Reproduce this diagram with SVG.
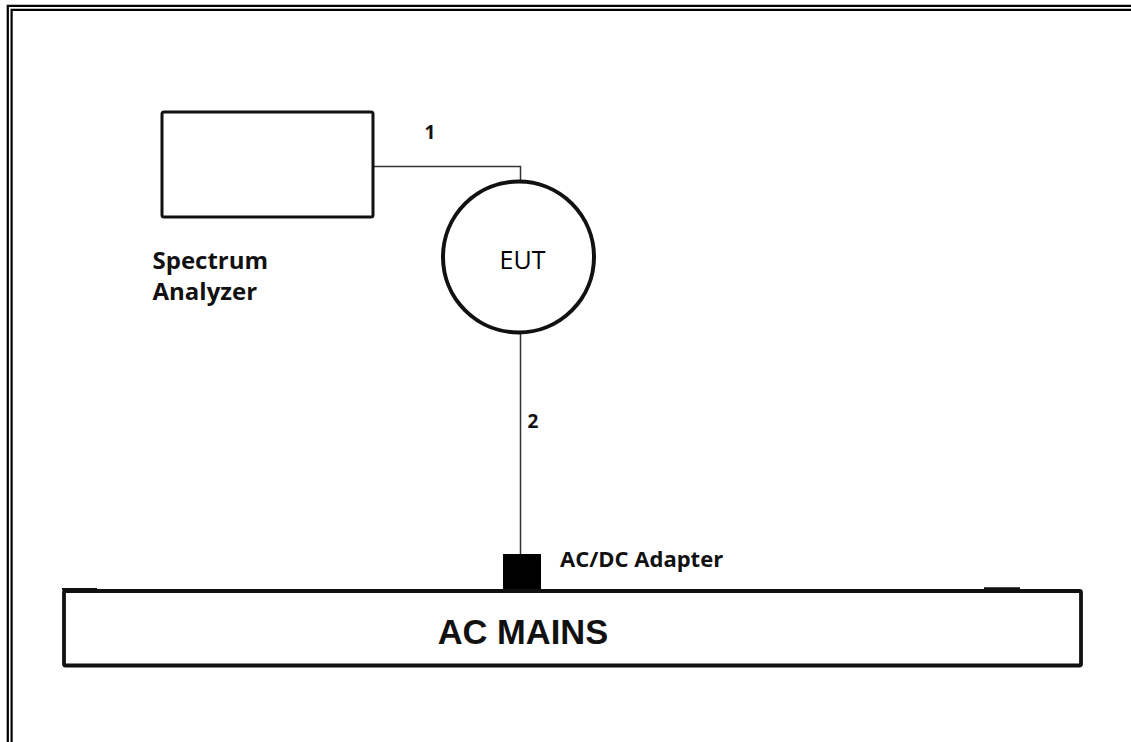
<svg xmlns="http://www.w3.org/2000/svg" width="1131" height="742" viewBox="0 0 1131 742">
  <style>
    .frame { fill: none; stroke: #000; stroke-width: 2.2; }
    .box { fill: #fff; stroke: #111; stroke-linejoin: round; }
    .wire { fill: none; stroke: #333; stroke-width: 1.5; }
    .lbl { font-family: "Open Sans", "Noto Sans", sans-serif; font-weight: bold; fill: #111; }
    .plain { font-family: "Open Sans", "Noto Sans", sans-serif; fill: #000; }
    .mains { font-family: "Liberation Sans", Arial, sans-serif; font-weight: bold; fill: #111; }
  </style>
  <rect width="1131" height="742" fill="#fff"/>
  <g id="frame">
    <path class="frame" d="M7.8,742 V5.8 H1131"/>
    <path class="frame" d="M11.6,742 V9.8 H1131"/>
  </g>
  <g id="connectors">
    <path class="wire" d="M373,166.5 H520.5 V181"/>
    <path class="wire" d="M520.5,333 V555"/>
    <text class="lbl" x="430" y="139" font-size="19" text-anchor="middle">1</text>
    <text class="lbl" x="533" y="428" font-size="19" text-anchor="middle">2</text>
  </g>
  <g id="spectrum-analyzer">
    <rect class="box" x="162" y="112" width="211" height="105" rx="2" stroke-width="3"/>
    <text class="lbl" x="152.5" y="268.5" font-size="24">Spectrum</text>
    <text class="lbl" x="152.5" y="300" font-size="24">Analyzer</text>
  </g>
  <g id="eut">
    <circle class="box" cx="518.5" cy="257" r="75.5" stroke-width="4"/>
    <text class="plain" x="522.5" y="269" font-size="25" font-weight="500" text-anchor="middle">EUT</text>
  </g>
  <g id="adapter">
    <rect x="503" y="554" width="38" height="37" fill="#000"/>
    <text class="lbl" x="560" y="566.5" font-size="22">AC/DC Adapter</text>
  </g>
  <g id="ac-mains">
    <rect class="box" x="64" y="591" width="1017" height="74.5" rx="1.5" stroke-width="3.8" fill="none"/>
    <line x1="62" y1="589" x2="97" y2="589" stroke="#111" stroke-width="2"/>
    <line x1="984" y1="588.3" x2="1020" y2="588.3" stroke="#111" stroke-width="2.2"/>
    <text class="mains" x="523" y="644" font-size="34.5" text-anchor="middle">AC MAINS</text>
  </g>
</svg>
